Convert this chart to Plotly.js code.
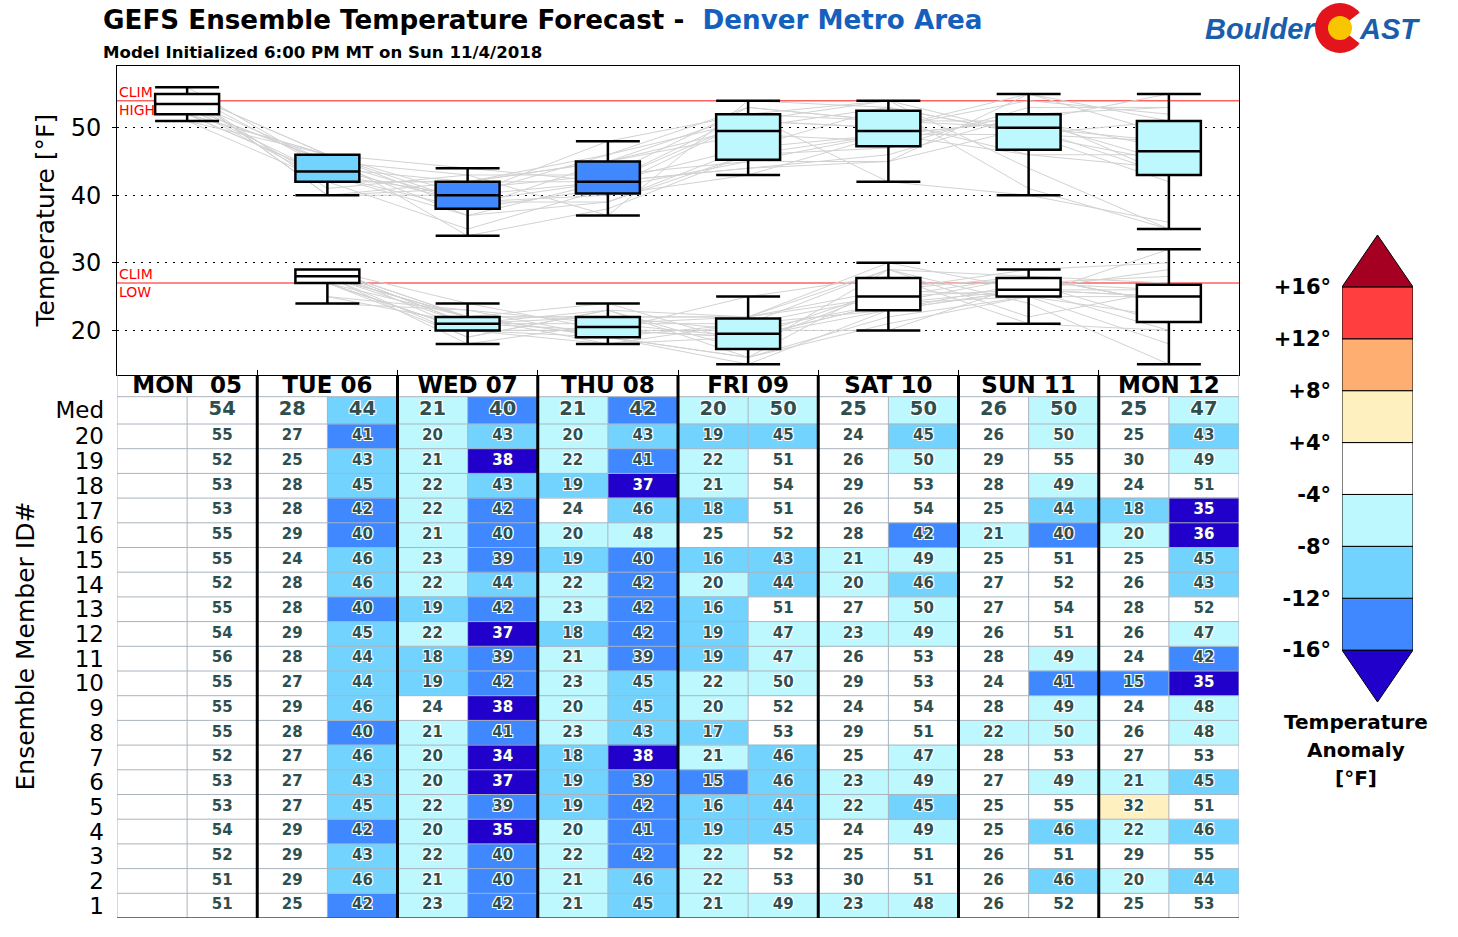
<!DOCTYPE html>
<html><head><meta charset="utf-8">
<script src="https://cdn.plot.ly/plotly-3.0.1.min.js"></script>
<style>html,body{margin:0;padding:0;background:#fff}</style>
</head><body>
<div id="chart" style="width:1458px;height:937px"></div>
<script>
// ---------------- DATA ----------------
const dayLabels = ['MON\u00a0\u00a005','TUE 06','WED 07','THU 08','FRI 09','SAT 10','SUN 11','MON 12'];
const memberIds = [20,19,18,17,16,15,14,13,12,11,10,9,8,7,6,5,4,3,2,1];

// member values, listed from member 20 down to member 1
const mon05High = [55,52,53,53,55,55,52,55,54,56,55,55,55,52,53,53,54,52,51,51];
const tue06Low  = [27,25,28,28,29,24,28,28,29,28,27,29,28,27,27,27,29,29,29,25];
const tue06High = [41,43,45,42,40,46,46,40,45,44,44,46,40,46,43,45,42,43,46,42];
const wed07Low  = [20,21,22,22,21,23,22,19,22,18,19,24,21,20,20,22,20,22,21,23];
const wed07High = [43,38,43,42,40,39,44,42,37,39,42,38,41,34,37,39,35,40,40,42];
const thu08Low  = [20,22,19,24,20,19,22,23,18,21,23,20,23,18,19,19,20,22,21,21];
const thu08High = [43,41,37,46,48,40,42,42,42,39,45,45,43,38,39,42,41,42,46,45];
const fri09Low  = [19,22,21,18,25,16,20,16,19,19,22,20,17,21,15,16,19,22,22,21];
const fri09High = [45,51,54,51,52,43,44,51,47,47,50,52,53,46,46,44,45,52,53,49];
const sat10Low  = [24,26,29,26,28,21,20,27,23,26,29,24,29,25,23,22,24,25,30,23];
const sat10High = [45,50,53,54,42,49,46,50,49,53,53,54,51,47,49,45,49,51,51,48];
const sun11Low  = [26,29,28,25,21,25,27,27,26,28,24,28,22,28,27,25,25,26,26,26];
const sun11High = [50,55,49,44,40,51,52,54,51,49,41,49,50,53,49,55,46,51,46,52];
const mon12Low  = [25,30,24,18,20,25,26,28,26,24,15,24,26,27,21,32,22,29,20,25];
const mon12High = [43,49,51,35,36,45,43,52,47,42,35,48,48,53,45,51,46,55,44,53];

// "Med" row
const medianLow  = [null,28,21,21,20,25,26,25];
const medianHigh = [54,44,40,42,50,50,50,47];

// box statistics
const boxHighQ1  = [52, 42, 38, 40.25, 45.25, 47.25, 46.75, 43];
const boxHighMed = [53.5, 43.5, 40, 42, 49.5, 49.5, 50, 46.5];
const boxHighQ3  = [55, 46, 42, 45, 52, 52.5, 52, 51];
const boxHighMin = [51, 40, 34, 37, 43, 42, 40, 35];
const boxHighMax = [56, 46, 44, 48, 54, 54, 55, 55];
const boxLowQ1   = [null, 27, 20, 19, 17.25, 23, 25, 21.25];
const boxLowMed  = [null, 28, 21, 20.5, 19.5, 25, 26, 25];
const boxLowQ3   = [null, 29, 22, 22, 21.75, 27.75, 27.75, 26.75];
const boxLowMin  = [null, 24, 18, 18, 15, 20, 21, 15];
const boxLowMax  = [null, 29, 24, 24, 25, 30, 29, 32];

const climHigh = 54;
const climLow = 27;

const anomalyEdges  = [-16,-12,-8,-4,4,8,12,16];
const anomalyColors = ['#2200cc','#3f88ff','#73d3ff','#bdf8ff','#ffffff','#fff0bf','#ffae72','#ff3f3f','#a50021'];
const colorbarLabels = ['-16°','-12°','-8°','-4°','+4°','+8°','+12°','+16°'];

const lowsByDay  = [null, tue06Low, wed07Low, thu08Low, fri09Low, sat10Low, sun11Low, mon12Low];
const highsByDay = [mon05High, tue06High, wed07High, thu08High, fri09High, sat10High, sun11High, mon12High];

// ---------------- HELPERS / GEOMETRY ----------------
function binOf(anom){ let b = 0; for (const e of anomalyEdges) if (anom > e) b++; return b; }
const W = 1458, H = 937;
const px = v => v / W, py = v => 1 - v / H;
const FONT = 'DejaVu Sans';
const plotL = 117, plotR = 1239, topT = 66, topB = 375, tabB = 918;
const rowH = 24.7, medH = 27.3, headH = 21.7;
const nMem = memberIds.length;
const medTop = nMem * rowH + medH;
const tabTop = medTop + headH;
const nDays = dayLabels.length;
const yRange = [13.4, 59.13];

const traces = [];
const shapes = [];
const annotations = [];

// ---------------- SPAGHETTI LINES ----------------
const hx = [], hy = [], lx = [], ly = [];
for (let m = 0; m < nMem; m++) {
  for (let d = 0; d < nDays; d++) { hx.push(d); hy.push(highsByDay[d][m]); }
  hx.push(null); hy.push(null);
  for (let d = 0; d < nDays; d++) { if (lowsByDay[d]) { lx.push(d); ly.push(lowsByDay[d][m]); } }
  lx.push(null); ly.push(null);
}
traces.push({type:'scatter', mode:'lines', x:hx, y:hy, xaxis:'x', yaxis:'y', line:{color:'#d2d2d2', width:1}, hoverinfo:'skip', showlegend:false, connectgaps:false});
traces.push({type:'scatter', mode:'lines', x:lx, y:ly, xaxis:'x', yaxis:'y', line:{color:'#d2d2d2', width:1}, hoverinfo:'skip', showlegend:false, connectgaps:false});

// ---------------- BOXES ----------------
function addBox(d, q1, med, q3, lo, hi, clim) {
  traces.push({type:'box', x:[d], q1:[q1], median:[med], q3:[q3], lowerfence:[lo], upperfence:[hi],
    xaxis:'x', yaxis:'y4', width:0.456, whiskerwidth:1, boxpoints:false,
    fillcolor: anomalyColors[binOf(med - clim)], line:{color:'#000', width:2.5},
    hoverinfo:'skip', showlegend:false});
}
for (let d = 0; d < nDays; d++) {
  addBox(d, boxHighQ1[d], boxHighMed[d], boxHighQ3[d], boxHighMin[d], boxHighMax[d], climHigh);
  if (boxLowMed[d] !== null) addBox(d, boxLowQ1[d], boxLowMed[d], boxLowQ3[d], boxLowMin[d], boxLowMax[d], climLow);
}

// ---------------- TABLE HEATMAP ----------------
const xEdges = []; for (let j = 0; j <= nDays * 2; j++) xEdges.push(-0.5 + j * 0.5);
const yEdges = []; for (let k = 0; k <= nMem; k++) yEdges.push(k * rowH); yEdges.push(medTop);
const z = [];
const txtD = {x:[], y:[], t:[], s:[]}, txtW = {x:[], y:[], t:[], s:[]};
function cellValue(rowIdx, day, isHigh) {
  // rowIdx 0..nMem-1 -> members 1..20 ; rowIdx nMem -> Med
  if (rowIdx === nMem) return isHigh ? medianHigh[day] : medianLow[day];
  const arr = isHigh ? highsByDay[day] : lowsByDay[day];
  if (!arr) return null;
  const mIdx = memberIds.indexOf(rowIdx + 1);
  return arr[mIdx];
}
for (let k = 0; k <= nMem; k++) {
  const row = [];
  const yc = (yEdges[k] + yEdges[k + 1]) / 2;
  for (let d = 0; d < nDays; d++) {
    for (let h = 0; h < 2; h++) {
      const v = cellValue(k, d, h === 1);
      if (v === null || v === undefined) { row.push(null); continue; }
      const b = binOf(v - (h === 1 ? climHigh : climLow));
      row.push(b);
      const tgt = b === 0 ? txtW : txtD;
      tgt.x.push(d - 0.25 + h * 0.5); tgt.y.push(yc); tgt.t.push(String(v)); tgt.s.push(k === nMem ? 19.5 : 15);
    }
  }
  z.push(row);
}
const cs = [];
anomalyColors.forEach((c, i) => { cs.push([i / anomalyColors.length, c]); cs.push([(i + 1) / anomalyColors.length, c]); });
traces.push({type:'heatmap', x:xEdges, y:yEdges, z:z, xaxis:'x2', yaxis:'y2', colorscale:cs,
  zmin:-0.5, zmax:anomalyColors.length - 0.5, showscale:false, hoverinfo:'skip'});
traces.push({type:'scatter', mode:'text', x:txtD.x, y:txtD.y, text:txtD.t, xaxis:'x2', yaxis:'y2',
  textposition:'middle center', hoverinfo:'skip', showlegend:false,
  textfont:{family:FONT, size:txtD.s, color:'#2f4f4f', weight:'bold',
    shadow:'-1px -1px 0 #fff, 1px -1px 0 #fff, -1px 1px 0 #fff, 1px 1px 0 #fff'}});
traces.push({type:'scatter', mode:'text', x:txtW.x, y:txtW.y, text:txtW.t, xaxis:'x2', yaxis:'y2',
  textposition:'middle center', hoverinfo:'skip', showlegend:false,
  textfont:{family:FONT, size:txtW.s, color:'#ffffff', weight:'bold', shadow:'0 0 1px #2f4f4f'}});
// header row
traces.push({type:'scatter', mode:'text', x:dayLabels.map((_, d) => d), y:dayLabels.map(() => medTop + headH / 2 - 1.5),
  text:dayLabels, xaxis:'x2', yaxis:'y2', textposition:'middle center', hoverinfo:'skip', showlegend:false,
  textfont:{family:FONT, size:23, color:'#000', weight:'bold'}});

// table grid lines
const gridC = '#a9b4bf';
for (let k = 1; k <= nMem + 1; k++) {
  shapes.push({type:'line', xref:'x2', yref:'y2', x0:-0.5, x1:nDays - 0.5, y0:yEdges[k], y1:yEdges[k], line:{color:gridC, width:1}, layer:'above'});
}
for (let d = 0; d < nDays; d++) {
  shapes.push({type:'line', xref:'x2', yref:'y2', x0:d, x1:d, y0:0, y1:medTop, line:{color:gridC, width:1}, layer:'above'});
}
shapes.push({type:'line', xref:'x2', yref:'y2', x0:-0.5, x1:-0.5, y0:0, y1:tabTop, line:{color:gridC, width:1}, layer:'above'});
shapes.push({type:'line', xref:'x2', yref:'y2', x0:nDays - 0.5, x1:nDays - 0.5, y0:0, y1:tabTop, line:{color:gridC, width:1}, layer:'above'});
shapes.push({type:'line', xref:'x2', yref:'y2', x0:-0.5, x1:nDays - 0.5, y0:0, y1:0, line:{color:'#444', width:1.5}, layer:'above'});
for (let d = 0; d < nDays - 1; d++) {
  shapes.push({type:'line', xref:'x2', yref:'y2', x0:d + 0.5, x1:d + 0.5, y0:0, y1:tabTop, line:{color:'#000', width:3}, layer:'above'});
}

// climatology lines
shapes.push({type:'line', xref:'x', yref:'y', x0:-0.5, x1:nDays - 0.5, y0:climHigh, y1:climHigh, line:{color:'#ff6060', width:1.5}, layer:'below'});
shapes.push({type:'line', xref:'x', yref:'y', x0:-0.5, x1:nDays - 0.5, y0:climLow, y1:climLow, line:{color:'#ff6060', width:1.5}, layer:'below'});
const climFont = {family:FONT, size:14, color:'#ff0000'};
annotations.push({xref:'paper', yref:'y', x:px(plotL), y:climHigh, xanchor:'left', yanchor:'bottom', text:'CLIM', showarrow:false, font:climFont, yshift:-1});
annotations.push({xref:'paper', yref:'y', x:px(plotL), y:climHigh, xanchor:'left', yanchor:'top', text:'HIGH', showarrow:false, font:climFont, yshift:1});
annotations.push({xref:'paper', yref:'y', x:px(plotL), y:climLow, xanchor:'left', yanchor:'bottom', text:'CLIM', showarrow:false, font:climFont, yshift:-1});
annotations.push({xref:'paper', yref:'y', x:px(plotL), y:climLow, xanchor:'left', yanchor:'top', text:'LOW', showarrow:false, font:climFont, yshift:1});

// ---------------- COLORBAR ----------------
traces.push({type:'scatter', mode:'markers', x:[0.5], y:[4.5], xaxis:'x3', yaxis:'y3', marker:{opacity:0}, hoverinfo:'skip', showlegend:false});
const nb = anomalyColors.length;
anomalyColors.forEach((c, i) => {
  if (i === 0) {
    shapes.push({type:'path', xref:'x3', yref:'y3', path:`M 0 ${i + 1} L 0.5 ${i} L 1 ${i + 1} Z`, fillcolor:c, line:{color:'#000', width:1}, layer:'above'});
  } else if (i === nb - 1) {
    shapes.push({type:'path', xref:'x3', yref:'y3', path:`M 0 ${i} L 0.5 ${i + 1} L 1 ${i} Z`, fillcolor:c, line:{color:'#000', width:1}, layer:'above'});
  } else {
    shapes.push({type:'rect', xref:'x3', yref:'y3', x0:0, x1:1, y0:i, y1:i + 1, fillcolor:c, line:{color:'#000', width:1}, layer:'above'});
  }
});
['Temperature', 'Anomaly', '[°F]'].forEach((t, i) => {
  annotations.push({xref:'paper', yref:'paper', x:px(1356), y:py(722 + 28 * i), xanchor:'center', yanchor:'middle', text:t, showarrow:false,
    font:{family:FONT, size:20, color:'#000', weight:'bold'}});
});

// ---------------- TITLES ----------------
annotations.push({xref:'paper', yref:'paper', x:px(101), y:py(20), xanchor:'left', yanchor:'middle', showarrow:false,
  text:'GEFS Ensemble Temperature Forecast -\u00a0\u00a0<span style="color:#1560bd">Denver Metro Area</span>',
  font:{family:FONT, size:26.2, color:'#000', weight:'bold'}});
annotations.push({xref:'paper', yref:'paper', x:px(101), y:py(52), xanchor:'left', yanchor:'middle', showarrow:false,
  text:'Model Initialized 6:00 PM MT on Sun 11/4/2018', font:{family:FONT, size:16.6, color:'#000', weight:'bold'}});
annotations.push({xref:'paper', yref:'paper', x:px(45), y:py((topT + topB) / 2), xanchor:'center', yanchor:'middle', textangle:-90, showarrow:false,
  text:'Temperature [°F]', font:{family:FONT, size:25, color:'#000'}});
annotations.push({xref:'paper', yref:'paper', x:px(25), y:py((topB + tabB) / 2), xanchor:'center', yanchor:'middle', textangle:-90, showarrow:false,
  text:'Ensemble Member ID#', font:{family:FONT, size:25, color:'#000'}});

// ---------------- LOGO ----------------
const cx = 1340, cy = 28, R = 25, r = 12;
shapes.push({type:'circle', xref:'paper', yref:'paper', x0:px(cx - R), x1:px(cx + R), y0:py(cy + R), y1:py(cy - R), fillcolor:'#e3141b', line:{width:0}, layer:'above'});
const a = 38 * Math.PI / 180, L = 40;
shapes.push({type:'path', xref:'paper', yref:'paper',
  path:`M ${px(cx)} ${py(cy)} L ${px(cx + L * Math.cos(a))} ${py(cy - L * Math.sin(a))} L ${px(cx + L * Math.cos(a))} ${py(cy + L * Math.sin(a))} Z`,
  fillcolor:'#ffffff', line:{width:0}, layer:'above'});
shapes.push({type:'circle', xref:'paper', yref:'paper', x0:px(cx - r), x1:px(cx + r), y0:py(cy + r), y1:py(cy - r), fillcolor:'#f7c600', line:{width:0}, layer:'above'});
const logoFont = {family:'Liberation Sans', size:29, color:'#1a5dab', weight:'bold', style:'italic'};
annotations.push({xref:'paper', yref:'paper', x:px(1318), y:py(29), xanchor:'right', yanchor:'middle', showarrow:false, text:'Boulder', font:logoFont});
annotations.push({xref:'paper', yref:'paper', x:px(1357), y:py(29), xanchor:'left', yanchor:'middle', showarrow:false, text:'AST', font:logoFont});

// ---------------- LAYOUT ----------------
const rowTickVals = [], rowTickText = [];
for (let k = 0; k < nMem; k++) { rowTickVals.push((yEdges[k] + yEdges[k + 1]) / 2); rowTickText.push(String(k + 1)); }
rowTickVals.push((yEdges[nMem] + yEdges[nMem + 1]) / 2); rowTickText.push('Med');

const layout = {
  width: W, height: H, margin:{l:0, r:0, t:0, b:0},
  paper_bgcolor:'#fff', plot_bgcolor:'#fff', showlegend:false, boxmode:'overlay',
  font:{family:FONT, color:'#000'},
  xaxis:{domain:[px(plotL), px(plotR)], range:[-0.5, nDays - 0.5], anchor:'y', showgrid:false, zeroline:false,
    showline:true, mirror:true, linecolor:'#000', linewidth:1, ticks:'inside', ticklen:5, tickcolor:'#000',
    tickvals:dayLabels.slice(1).map((_, d) => d + 0.5), showticklabels:false, fixedrange:true},
  yaxis:{domain:[py(topB), py(topT)], range:yRange, anchor:'x', tickvals:[20,30,40,50], ticks:'outside', ticklen:4,
    tickcolor:'#000', tickfont:{family:FONT, size:24, color:'#000'}, ticklabelstandoff:6,
    showgrid:true, gridcolor:'#000', gridwidth:1.3, griddash:'2px,6px', zeroline:false,
    showline:true, mirror:true, linecolor:'#000', linewidth:1, fixedrange:true},
  yaxis4:{overlaying:'y', range:yRange, anchor:'x', visible:false, fixedrange:true},
  xaxis2:{domain:[px(plotL), px(plotR)], range:[-0.5, nDays - 0.5], anchor:'y2', visible:false, fixedrange:true},
  yaxis2:{domain:[py(tabB), py(topB)], range:[0, tabTop], anchor:'x2', tickvals:rowTickVals, ticktext:rowTickText,
    ticks:'', tickfont:{family:FONT, size:23, color:'#000'}, ticklabelstandoff:12, showgrid:false, zeroline:false, showline:false, fixedrange:true},
  xaxis3:{domain:[px(1342), px(1413)], range:[0, 1], anchor:'y3', visible:false, fixedrange:true},
  yaxis3:{domain:[py(702), py(235)], range:[0, nb], anchor:'x3', tickvals:colorbarLabels.map((_, i) => i + 1), ticktext:colorbarLabels,
    ticks:'', tickfont:{family:FONT, size:21, color:'#000', weight:'bold'}, ticklabelstandoff:10, showgrid:false, zeroline:false, showline:false, fixedrange:true},
  shapes: shapes,
  annotations: annotations
};

Plotly.newPlot('chart', traces, layout, {displayModeBar:false, staticPlot:true});
</script></body></html>
